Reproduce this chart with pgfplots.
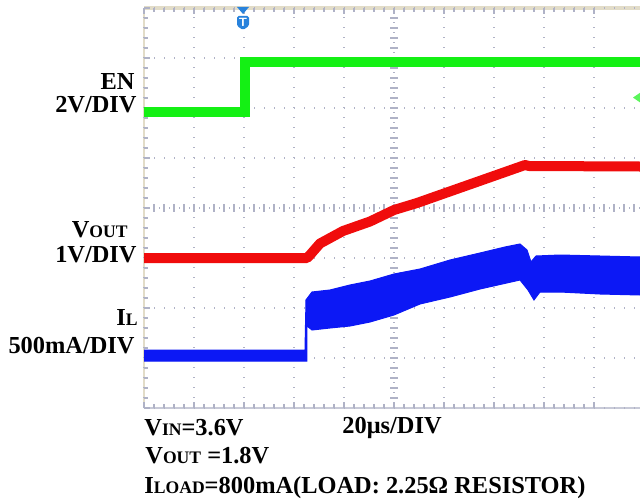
\documentclass[border=0pt]{standalone}
\usepackage{pgfplots}
\pgfplotsset{compat=1.18}
\usepackage{fontspec}
\setmainfont{Liberation Serif}
\definecolor{engreen}{RGB}{20,240,20}
\definecolor{voutred}{RGB}{240,12,12}
\definecolor{ilblue}{RGB}{12,24,245}
\definecolor{gridc}{RGB}{175,178,198}
\definecolor{framec}{RGB}{226,220,200}
\definecolor{trigc}{RGB}{40,130,220}
\newcommand\sm[1]{{\fontsize{8.8bp}{9bp}\selectfont #1}}

\begin{document}
\begin{tikzpicture}
\path[use as bounding box] (-72bp,-45.5bp) rectangle (248bp,204bp);
% frame and centre cross
\draw[framec, line width=1.6bp] (0,200bp) -- (248bp,200bp);
\draw[framec, line width=0.8bp] (0,0) -- (0,200bp);
\draw[gridc!70, line width=0.8bp] (0,0) -- (248bp,0);
\draw[gridc, line width=0.6bp, dash pattern=on 0.7bp off 1.8bp] (0,100bp) -- (248bp,100bp);
\draw[gridc, line width=0.6bp, dash pattern=on 0.7bp off 1.8bp] (125bp,0) -- (125bp,200bp);
\foreach \i in {1,...,49} \draw[gridc, line width=0.6bp] (\i*5bp,98bp) -- (\i*5bp,102bp);
\foreach \i in {1,...,39} \draw[gridc, line width=0.6bp] (123bp,\i*5bp) -- (127bp,\i*5bp);

\begin{axis}[
  at={(0,0)}, anchor=south west,
  scale only axis, width=248bp, height=200bp,
  xmin=0, xmax=9.92, ymin=0, ymax=8,
  xtick={0,...,9}, ytick={0,...,8},
  xticklabel=\empty, yticklabel=\empty,
  minor x tick num=4, minor y tick num=4,
  xtick pos=both, ytick pos=left, tick align=inside,
  major tick length=3bp, minor tick length=2bp,
  every tick/.style={gridc, line width=0.6bp},
  grid=major,
  major grid style={gridc, line width=0.7bp, dash pattern=on 0.7bp off 4.3bp},
  axis line style={draw=none},
]
% IL, 500mA/DIV: ripple band as upper and lower envelope
\addplot[draw=ilblue, fill=ilblue, line width=0.5bp] coordinates {
  (0,1.16) (3.22,1.16) (3.24,2.16) (3.36,2.32) (3.72,2.36) (4.12,2.46)
  (4.52,2.54) (5.0,2.68) (5.52,2.78) (6.12,2.96) (6.72,3.10) (7.22,3.22)
  (7.52,3.28) (7.66,3.16) (7.74,2.92) (7.84,3.04) (8.32,3.06) (9.12,3.04)
  (9.92,3.02)
  (9.92,2.26) (9.12,2.28) (8.32,2.32) (7.92,2.32) (7.80,2.16) (7.68,2.36)
  (7.52,2.56) (6.72,2.38) (6.12,2.22) (5.52,2.08) (5.0,1.86) (4.52,1.72)
  (4.12,1.64) (3.72,1.60) (3.36,1.56) (3.26,1.64) (3.26,0.94) (0,0.94)
} -- cycle;
% VOUT, 1V/DIV
\addplot[voutred, line width=5bp, line join=round] coordinates {
  (0,3.0) (3.26,3.0) (3.32,3.06) (3.38,3.13) (3.52,3.29) (3.98,3.54)
  (4.52,3.73) (5.0,3.96) (5.46,4.1) (7.62,4.86) (7.7,4.84) (9.92,4.83)
};
% EN, 2V/DIV
\addplot[engreen, line width=5bp] coordinates {
  (0,5.92) (2.02,5.92) (2.02,6.92) (9.92,6.92)
};
\end{axis}

% trigger and channel markers
\fill[trigc] (46.5bp,200.5bp) -- (52.5bp,200.5bp) -- (49.5bp,197bp) -- cycle;
\fill[trigc, rounded corners=0.8bp] (46.5bp,196bp) -- (52.5bp,196bp) -- (52.5bp,191bp) -- (49.5bp,189bp) -- (46.5bp,191bp) -- cycle;
\node[white, font=\sffamily\bfseries\fontsize{6bp}{6bp}\selectfont, inner sep=0pt] at (49.5bp,192.8bp) {T};
\fill[engreen!70!white] (244.5bp,155.2bp) -- (248bp,157.6bp) -- (248bp,152.8bp) -- cycle;

% channel labels
\begin{scope}[every node/.style={inner sep=0pt, font=\bfseries\fontsize{12.2bp}{13bp}\selectfont}]
\node[anchor=base east] at (-4.5bp,159bp) {EN};
\node[anchor=base east] at (-3.5bp,147.5bp) {2V/DIV};
\node[anchor=base east] at (-8bp,85bp) {V\sm{OUT}};
\node[anchor=base east] at (-3.5bp,72.5bp) {1V/DIV};
\node[anchor=base east] at (-3bp,41bp) {I\sm{L}};
\node[anchor=base east] at (-4.5bp,27.5bp) {500mA/DIV};
\node[anchor=base west] at (0bp,-13.5bp) {V\sm{IN}=3.6V};
\node[anchor=base west] at (99bp,-12.5bp) {20μs/DIV};
\node[anchor=base west] at (0.5bp,-27.5bp) {V\sm{OUT} =1.8V};
\node[anchor=base west] at (0bp,-42.5bp) {I\sm{LOAD}=800mA(LOAD: 2.25Ω RESISTOR)};
\end{scope}
\end{tikzpicture}
\end{document}
